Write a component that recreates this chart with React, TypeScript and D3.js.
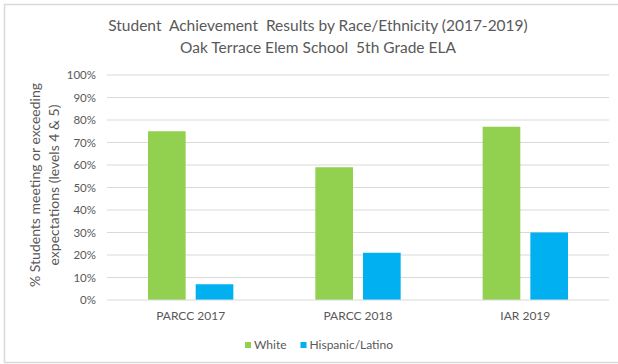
import React from "react";
import * as d3 from "d3";

const categories = ["PARCC 2017", "PARCC 2018", "IAR 2019"];
const seriesNames = ["White", "Hispanic/Latino"];
const whiteValues = [0.75, 0.59, 0.77];
const hispanicValues = [0.07, 0.21, 0.30];
const yTicks = [0, 0.1, 0.2, 0.3, 0.4, 0.5, 0.6, 0.7, 0.8, 0.9, 1.0];
const titleLines = [
  "Student  Achievement  Results by Race/Ethnicity (2017-2019)",
  "Oak Terrace Elem School  5th Grade ELA",
];
const yTitleLines = ["% Students meeting or exceeding", "expectations (levels 4 & 5)"];
const colors = ["#92D050", "#00B0F0"];

const W = 618;
const H = 364;
const FONT = "Lato, 'Open Sans', sans-serif";
const TXT = "#595959";

export default function App() {
  const x = d3.scaleBand<string>().domain(categories).range([107, 609]).paddingInner(0.49).paddingOuter(0.245);
  const xs = d3.scaleBand<string>().domain(seriesNames).range([0, x.bandwidth()]).paddingInner(0.2105);
  const y = d3.scaleLinear().domain([0, 1]).range([300, 75]);
  const fmt = d3.format(".0%");
  const series = [whiteValues, hispanicValues];

  return (
    <svg width={W} height={H} style={{ position: "absolute", left: 0, top: 0, background: "#fff" }} fontFamily={FONT}>
      <rect x={0} y={0} width={W} height={H} fill="#fff" />
      <rect x={4.5} y={4.5} width={630} height={358} fill="#fff" stroke="#d9d9d9" strokeWidth={1.5} />
      {titleLines.map((t, i) => (
        <text key={t} x={318} y={31 + i * 22} textAnchor="middle" fontSize={15.5} fill={TXT} style={{ whiteSpace: "pre" }}>
          {t}
        </text>
      ))}
      {yTicks.map((t) => (
        <g key={t}>
          {t > 0 && <line x1={107} x2={609} y1={y(t)} y2={y(t)} stroke="#d9d9d9" strokeWidth={1} />}
          <text x={96} y={y(t)} dy="0.35em" textAnchor="end" fontSize={11.5} fill={TXT}>
            {fmt(t)}
          </text>
        </g>
      ))}
      {categories.map((c, ci) =>
        series.map((vals, si) => (
          <rect
            key={c + si}
            x={(x(c) as number) + (xs(seriesNames[si]) as number)}
            y={y(vals[ci])}
            width={xs.bandwidth()}
            height={y(0) - y(vals[ci])}
            fill={colors[si]}
          />
        ))
      )}
      <line x1={107} x2={609} y1={y(0)} y2={y(0)} stroke="#d9d9d9" strokeWidth={1} />
      {categories.map((c) => (
        <text key={c} x={(x(c) as number) + x.bandwidth() / 2} y={319.5} textAnchor="middle" fontSize={12} fill={TXT}>
          {c}
        </text>
      ))}
      {yTitleLines.map((t, i) => (
        <text
          key={t}
          transform={`translate(${40 + i * 19},185) rotate(-90)`}
          textAnchor="middle"
          fontSize={14}
          fill={TXT}
        >
          {t}
        </text>
      ))}
      {seriesNames.map((s, i) => {
        const lx = [245, 300.5][i];
        return (
          <g key={s}>
            <rect x={lx} y={342} width={6} height={6} fill={colors[i]} />
            <text x={lx + 9} y={345} dy="0.35em" fontSize={12} fill={TXT}>
              {s}
            </text>
          </g>
        );
      })}
    </svg>
  );
}
